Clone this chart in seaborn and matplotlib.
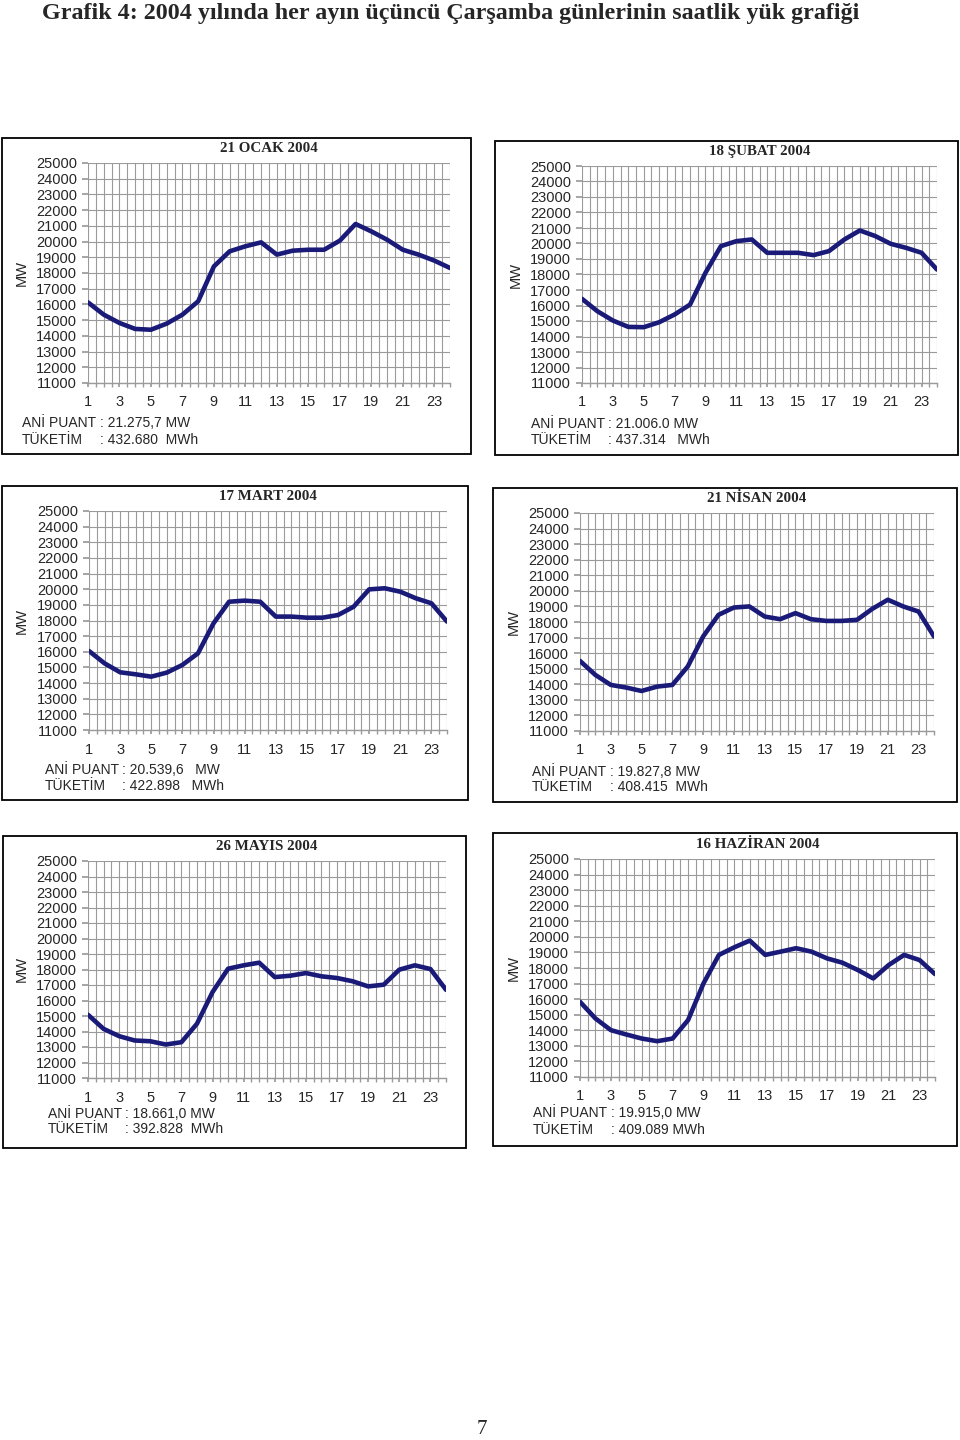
import numpy as np
import pandas as pd
import matplotlib
matplotlib.use("Agg")
import matplotlib.pyplot as plt
import seaborn as sns
from matplotlib.patches import Rectangle

# Saatlik yük değerleri (MW)
saatler = list(range(1, 25))
ocak = [16130, 15350, 14820, 14440, 14390, 14780, 15350, 16200, 18420, 19380, 19700, 19950,
        19170, 19420, 19480, 19480, 20060, 21120, 20650, 20120, 19480, 19170, 18790, 18320]
subat = [16430, 15630, 15030, 14620, 14600, 14920, 15420, 16060, 18110, 19830, 20150, 20260,
         19400, 19400, 19400, 19250, 19510, 20260, 20840, 20480, 19980, 19720, 19400, 18320]
mart = [16050, 15260, 14690, 14560, 14410, 14670, 15160, 15900, 17820, 19200, 19270, 19200,
        18250, 18250, 18180, 18180, 18350, 18880, 19990, 20060, 19840, 19420, 19100, 17930]
nisan = [15500, 14600, 13960, 13790, 13570, 13850, 13960, 15140, 17070, 18460, 18930, 19000,
         18350, 18180, 18570, 18180, 18070, 18070, 18140, 18850, 19430, 19000, 18670, 17070]
mayis = [15080, 14170, 13700, 13420, 13370, 13160, 13310, 14500, 16540, 18050, 18270, 18440,
         17510, 17600, 17770, 17560, 17450, 17240, 16910, 17020, 17990, 18270, 18030, 16690]
haziran = [15830, 14760, 14010, 13730, 13470, 13300, 13470, 14650, 17010, 18840, 19330, 19760,
           18840, 19050, 19270, 19050, 18620, 18340, 17870, 17330, 18190, 18840, 18510, 17610]

basliklar = ["21 OCAK 2004", "18 ŞUBAT 2004", "17 MART 2004",
             "21 NİSAN 2004", "26 MAYIS 2004", "16 HAZİRAN 2004"]
ani_puant = [": 21.275,7 MW", ": 21.006.0 MW", ": 20.539,6   MW",
             ": 19.827,8 MW", ": 18.661,0 MW", ": 19.915,0 MW"]
tuketim = [": 432.680  MWh", ": 437.314   MWh", ": 422.898   MWh",
           ": 408.415  MWh", ": 392.828  MWh", ": 409.089 MWh"]
seriler = [ocak, subat, mart, nisan, mayis, haziran]

# Yerleşim (piksel): çerçeve, çizim alanı, MW etiketi x, not satırları
yerlesim = [
    dict(box=(2, 138, 471, 454), plot=(88, 163, 450, 383), mw=22, note=(22, 100, 423, 440)),
    dict(box=(495, 141, 958, 455), plot=(582, 166, 937, 383), mw=516, note=(531, 608, 424, 440)),
    dict(box=(2, 486, 468, 800), plot=(89, 511, 447, 730), mw=22, note=(45, 122, 770, 786)),
    dict(box=(493, 488, 957, 802), plot=(580, 513, 934, 731), mw=514, note=(532, 610, 772, 787)),
    dict(box=(3, 836, 466, 1148), plot=(88, 861, 446, 1078), mw=22, note=(48, 125, 1114, 1129)),
    dict(box=(493, 833, 957, 1146), plot=(580, 859, 935, 1077), mw=514, note=(533, 611, 1113, 1130)),
]

W, H = 960, 1440
sns.set_theme(style="white")
plt.rcParams['font.family'] = ['Liberation Sans', 'DejaVu Sans']

fig = plt.figure(figsize=(W / 100, H / 100), dpi=100)
fig.patch.set_facecolor("white")


def fx(x):
    return x / W


def fy(y):
    return 1 - y / H


fig.text(fx(42), fy(13), "Grafik 4: 2004 yılında her ayın üçüncü Çarşamba günlerinin saatlik yük grafiği",
         family=['Liberation Serif', 'DejaVu Serif'], fontweight='bold', fontsize=17.3,
         ha='left', va='center')

lacivert = "#1a1a78"
gri = "#9a9a9a"

for i, lay in enumerate(yerlesim):
    bx0, by0, bx1, by1 = lay['box']
    fig.add_artist(Rectangle((fx(bx0), fy(by1)), fx(bx1 - bx0), (by1 - by0) / H,
                             transform=fig.transFigure, fill=False, edgecolor='black', lw=1.3))
    l, t, r, b = lay['plot']
    ax = fig.add_axes([fx(l), fy(b), fx(r - l), (b - t) / H])
    df = pd.DataFrame({'Saat': saatler, 'MW': seriler[i]})
    sns.lineplot(data=df, x='Saat', y='MW', ax=ax, color=lacivert, lw=3.3,
                 solid_joinstyle='round', solid_capstyle='round')
    ax.set_xlim(1, 24)
    ax.set_ylim(11000, 25000)
    ax.set_xticks(range(1, 24, 2))
    ax.set_xticks(np.arange(1, 24.01, 0.5), minor=True)
    ax.set_yticks(range(11000, 25001, 1000))
    ax.grid(which='both', color=gri, lw=0.8)
    ax.set_axisbelow(True)
    for s in ['top', 'right', 'left']:
        ax.spines[s].set_visible(False)
    ax.spines['bottom'].set_color(gri)
    ax.spines['bottom'].set_linewidth(1.0)
    ax.tick_params(axis='x', which='both', direction='out', length=3, color=gri,
                   bottom=True, labelsize=10.5, pad=6)
    ax.tick_params(axis='y', direction='out', length=4, color=gri, left=True,
                   labelsize=10.5, pad=4)
    ax.set_xlabel("")
    ax.set_ylabel("")
    ax.set_facecolor("white")
    fig.text(fx(lay['mw']), fy((t + b) / 2), "MW", rotation=90, fontsize=10.5,
             ha='center', va='center')
    fig.text(fx((l + r) / 2), fy(t - 14), basliklar[i],
             family=['Liberation Serif', 'DejaVu Serif'], fontweight='bold', fontsize=10.8,
             ha='center', va='center')
    nx0, nx1, ny0, ny1 = lay['note']
    fig.text(fx(nx0), fy(ny0), "ANİ PUANT", fontsize=10, ha='left', va='center')
    fig.text(fx(nx1), fy(ny0), ani_puant[i], fontsize=10, ha='left', va='center')
    fig.text(fx(nx0), fy(ny1), "TÜKETİM", fontsize=10, ha='left', va='center')
    fig.text(fx(nx1), fy(ny1), tuketim[i], fontsize=10, ha='left', va='center')

fig.text(fx(482), fy(1430), "7", family=['Liberation Serif', 'DejaVu Serif'], fontsize=15,
         ha='center', va='center')

fig.savefig("out.png", dpi=100)
